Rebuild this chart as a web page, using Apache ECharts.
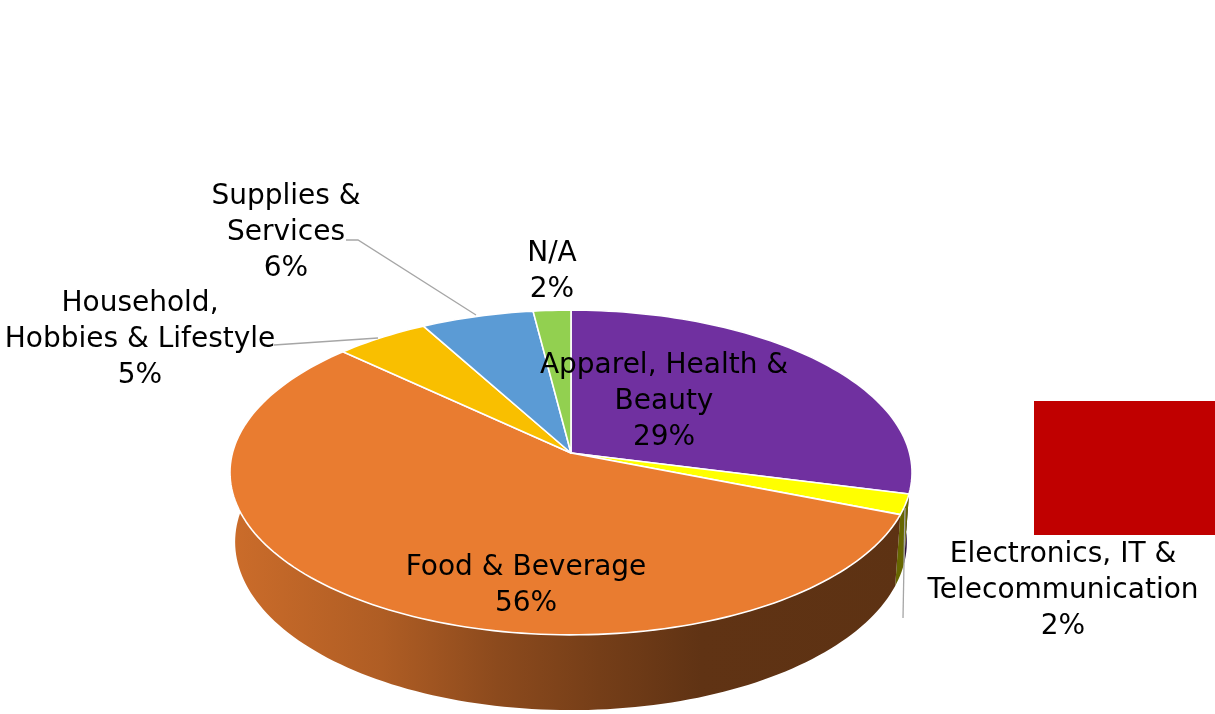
<!DOCTYPE html>
<html>
<head>
<meta charset="utf-8">
<script src="https://cdn.jsdelivr.net/npm/echarts@6/dist/echarts.min.js"></script>
<style>
  html, body { margin: 0; padding: 0; background: #ffffff; }
  #chart { width: 1215px; height: 714px; }
</style>
</head>
<body>
<div id="chart"></div>
<script>
// slices, clockwise from 12 o'clock
const categories = [
  "Apparel, Health &\nBeauty",
  "Electronics, IT &\nTelecommunication",
  "Food & Beverage",
  "Household,\nHobbies & Lifestyle",
  "Supplies &\nServices",
  "N/A",
];
const shares = [29, 2, 56, 5, 6, 2];

const palette = ["#7030A0", "#FFFF00", "#E97C30", "#F9BF00", "#5B9BD5", "#92D050"];

// where each label sits, and leader lines (if any)
const labelLayout = [
  { x: 664, y: 402 },
  { x: 1063, y: 591, leader: [[905, 508], [903, 618]] },
  { x: 526, y: 586 },
  { x: 140, y: 340, leader: [[274, 345], [378, 338]] },
  { x: 286, y: 233, leader: [[346, 240], [358, 240], [476, 315]] },
  { x: 552, y: 272 },
];

const total = shares.reduce((a, b) => a + b, 0);
const starts = [];
shares.reduce((acc, v) => { starts.push(acc); return acc + v; }, 0);

// simple perspective camera for the tilted disc
const cam = { cx: 571, cy: 453, f: 2485, dist: 7.34, sinT: 0.4727, depth: 0.235 };
cam.cosT = Math.sqrt(1 - cam.sinT * cam.sinT);

const project = (px, py, pz) => {
  const yc = py * cam.cosT + pz * cam.sinT;
  const zc = -py * cam.sinT + pz * cam.cosT + cam.dist;
  return [cam.cx + (cam.f * px) / zc, cam.cy - (cam.f * yc) / zc];
};

const arc = (a0, a1, py) => {
  const n = Math.max(2, Math.ceil(Math.abs(a1 - a0) * 40));
  const pts = [];
  for (let i = 0; i <= n; i++) {
    const a = a0 + ((a1 - a0) * i) / n;
    pts.push(project(Math.cos(a), py, Math.sin(a)));
  }
  return pts;
};

const sliceAngles = (idx) => {
  const a0 = Math.PI / 2 - (2 * Math.PI * starts[idx]) / total;
  const a1 = Math.PI / 2 - (2 * Math.PI * (starts[idx] + shares[idx])) / total;
  return [a0, a1];
};

const shade = (hex, k) => {
  const n = parseInt(hex.slice(1), 16);
  const r = Math.round(((n >> 16) & 255) * k);
  const g = Math.round(((n >> 8) & 255) * k);
  const b = Math.round((n & 255) * k);
  return `rgb(${r},${g},${b})`;
};

const wallFill = (hex) =>
  new echarts.graphic.LinearGradient(232, 0, 912, 0, [
    { offset: 0, color: shade(hex, 0.87) },
    { offset: 0.22, color: shade(hex, 0.75) },
    { offset: 0.39, color: shade(hex, 0.6) },
    { offset: 0.54, color: shade(hex, 0.5) },
    { offset: 0.69, color: shade(hex, 0.41) },
    { offset: 1, color: shade(hex, 0.4) },
  ], true);

const sliceData = shares.map((v, i) => ({ name: categories[i], value: [starts[i], v] }));

const renderWall = (params) => {
  const i = params.dataIndex;
  const [a0, a1] = sliceAngles(i);
  const top = arc(a0, a1, 0);
  const bottom = arc(a0, a1, -cam.depth).reverse();
  return {
    type: "polygon",
    shape: { points: top.concat(bottom) },
    style: { fill: wallFill(palette[i]), stroke: null },
  };
};

const renderTop = (params) => {
  const i = params.dataIndex;
  const [a0, a1] = sliceAngles(i);
  const pts = [project(0, 0, 0)].concat(arc(a0, a1, 0));
  return {
    type: "polygon",
    shape: { points: pts },
    style: { fill: palette[i], stroke: "#ffffff", lineWidth: 1.6, lineJoin: "round" },
  };
};

const renderLabel = (params) => {
  const i = params.dataIndex;
  const lay = labelLayout[i];
  const pct = Math.round((shares[i] / total) * 100) + "%";
  const children = [];
  if (lay.leader) {
    children.push({
      type: "polyline",
      shape: { points: lay.leader },
      style: { stroke: "#A6A6A6", lineWidth: 1.3, fill: null },
    });
  }
  children.push({
    type: "text",
    x: lay.x,
    y: lay.y,
    style: {
      text: categories[i] + "\n" + pct,
      fill: "#000000",
      font: "28px 'DejaVu Sans'",
      lineHeight: 36,
      align: "center",
      verticalAlign: "middle",
    },
  });
  return { type: "group", children };
};

const chart = echarts.init(document.getElementById("chart"), null, { renderer: "canvas" });
chart.setOption({
  animation: false,
  backgroundColor: "#ffffff",
  series: [
    { type: "custom", coordinateSystem: "none", z: 1, data: sliceData, renderItem: renderWall, silent: true },
    { type: "custom", coordinateSystem: "none", z: 2, data: sliceData, renderItem: renderTop, silent: true },
    { type: "custom", coordinateSystem: "none", z: 3, data: sliceData, renderItem: renderLabel, silent: true },
  ],
  graphic: [
    { type: "rect", left: 1034, top: 401, shape: { width: 181, height: 134 }, style: { fill: "#C00000" }, z: 5 },
  ],
});
</script>
</body>
</html>
